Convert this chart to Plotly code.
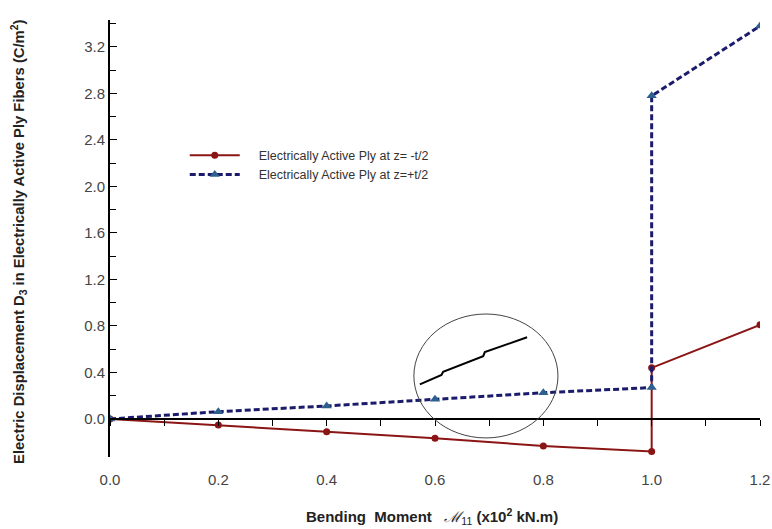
import plotly.graph_objects as go

# ---- data ----
moment_neg = [0.0, 0.2, 0.4, 0.6, 0.8, 1.0, 1.0, 1.2]
d3_neg = [0.0, -0.052, -0.109, -0.165, -0.232, -0.28, 0.44, 0.81]

moment_pos = [0.0, 0.2, 0.4, 0.6, 0.8, 1.0, 1.0, 1.2]
d3_pos = [0.0, 0.063, 0.112, 0.17, 0.226, 0.27, 2.78, 3.38]

# magnified staircase inset inside the ellipse
inset_x = [0.572, 0.612, 0.615, 0.689, 0.692, 0.770]
inset_y = [0.298, 0.378, 0.405, 0.540, 0.575, 0.703]

# ellipse bounds (data units)
ellipse_x = [0.561, 0.827]
ellipse_y = [-0.163, 0.903]

y_ticks = [0.0, 0.4, 0.8, 1.2, 1.6, 2.0, 2.4, 2.8, 3.2]
x_ticks = [0.0, 0.2, 0.4, 0.6, 0.8, 1.0, 1.2]

x_range = [0, 1.2]
y_range = [-0.327, 3.432]

red = "#8b1515"
navy = "#1b1b6b"
tri = "#2d5f8f"

NB = "\u00a0" * 4

fig = go.Figure()

fig.add_trace(go.Scatter(
    x=moment_neg, y=d3_neg, mode="lines+markers",
    name=NB + "Electrically Active Ply at z= -t/2",
    line=dict(color=red, width=2),
    marker=dict(symbol="circle", size=7, color=red),
))
fig.add_trace(go.Scatter(
    x=moment_pos, y=d3_pos, mode="lines+markers",
    name=NB + "Electrically Active Ply at z=+t/2",
    line=dict(color=navy, width=3, dash="6px,3px"),
    marker=dict(symbol="triangle-up", size=9, color=tri),
))
fig.add_trace(go.Scatter(
    x=inset_x, y=inset_y, mode="lines", xaxis="x2", yaxis="y",
    line=dict(color="black", width=2), showlegend=False, hoverinfo="skip",
))

fig.add_shape(type="circle", xref="x", yref="y",
              x0=ellipse_x[0], x1=ellipse_x[1], y0=ellipse_y[0], y1=ellipse_y[1],
              line=dict(color="#444444", width=1))

zero_pos = (0 - y_range[0]) / (y_range[1] - y_range[0])

tickfont = dict(family="Liberation Sans, Arial", size=15, color="#444444")

fig.update_layout(
    width=772, height=529,
    margin=dict(l=110, r=12, t=20, b=72),
    paper_bgcolor="white", plot_bgcolor="white",
    showlegend=True,
    legend=dict(x=0.115, y=0.724, xanchor="left", yanchor="top",
                bgcolor="rgba(0,0,0,0)",
                font=dict(family="Liberation Sans, Arial", size=12.5, color="#333333"),
                tracegroupgap=0, itemwidth=50),
    xaxis=dict(range=x_range, showline=False, zeroline=False, showgrid=False,
               tickvals=x_ticks, ticktext=[f"{v:.1f}" for v in x_ticks],
               ticks="outside", ticklen=9, tickcolor="rgba(0,0,0,0)",
               tickfont=tickfont, automargin=False),
    xaxis2=dict(range=x_range, overlaying="x", anchor="free", position=zero_pos,
                side="bottom", showline=True, linecolor="black", linewidth=2,
                ticks="outside", dtick=0.1, tick0=0, ticklen=6, tickwidth=1,
                tickcolor="black", showticklabels=False, showgrid=False,
                zeroline=False),
    yaxis=dict(range=y_range, showline=True, linecolor="black", linewidth=2,
               zeroline=False, showgrid=False,
               tickvals=y_ticks, ticktext=[f"{v:.1f}" for v in y_ticks],
               ticks="inside", ticklen=7, tickwidth=1, tickcolor="black",
               minor=dict(tickvals=[v + 0.2 for v in y_ticks], ticks="inside",
                          ticklen=6, tickwidth=1, tickcolor="black"),
               tickfont=tickfont, automargin=False),
)

fig.add_annotation(
    text="<b>Electric Displacement D<sub>3</sub> in Electrically Active Ply Fibers (C/m<sup>2</sup>)</b>",
    xref="paper", yref="paper", x=-0.141, y=0.493, textangle=-90,
    showarrow=False, xanchor="center", yanchor="middle",
    font=dict(family="Liberation Sans, Arial", size=14.8, color="#222222"),
)
fig.add_annotation(
    text="<b>Bending  Moment</b>   <span style='font-family:DejaVu Serif'><i>ℳ</i></span><sub>11</sub> <b>(x10<sup>2</sup> kN.m)</b>",
    xref="paper", yref="paper", x=0.495, y=-0.137,
    showarrow=False, xanchor="center", yanchor="middle",
    font=dict(family="Liberation Sans, Arial", size=15, color="#222222"),
)

fig.write_html("out.html", config={"displayModeBar": False},
               post_script="document.body.style.margin='0';")
